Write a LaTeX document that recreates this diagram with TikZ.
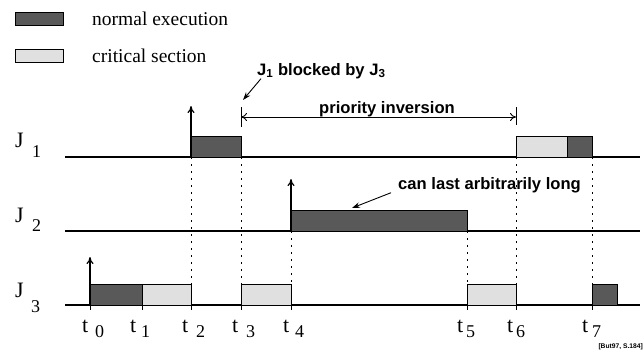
\documentclass[tikz,border=0pt]{standalone}
\usepackage{fontspec}
\setmainfont{Liberation Serif}
\newfontfamily\annfont{Liberation Sans}
\usetikzlibrary{arrows.meta}

\begin{document}
\begin{tikzpicture}[x=1pt,y=-1pt,
  timeline/.style={line width=1.1pt},
  normalbox/.style={draw=black, line width=0.9pt, fill=black!65},
  critbox/.style={draw=black, line width=0.9pt, fill=black!12},
  guide/.style={line width=1pt, dash pattern=on 1.8pt off 5.2pt},
  release/.style={line width=1.2pt, -{To[length=7pt,width=7pt]}},
  note/.style={font=\annfont\bfseries\fontsize{16.6}{18}\selectfont, inner sep=0pt},
  pointer/.style={line width=0.9pt, -{Stealth[length=8pt,width=5.5pt]}},
  jlab/.style={font=\fontsize{22}{24}\selectfont, inner sep=0pt, anchor=base west},
  sublab/.style={font=\fontsize{18}{20}\selectfont, inner sep=0pt, anchor=base west},
  legend/.style={font=\fontsize{19.5}{22}\selectfont, inner sep=0pt, anchor=base west},
]
\useasboundingbox[fill=white] (0,0) rectangle (644,353);

% legend
\draw[normalbox, line width=0.7pt] (15,12) rectangle (63,25);
\node[legend] (lgnormal) at (92,26) {normal execution};
\draw[critbox, line width=0.7pt] (15,49) rectangle (63,62);
\node[legend] (lgcrit) at (92,62) {critical section};

% task timelines
\draw[timeline] (65,157) -- (640,157);
\draw[timeline] (65,231) -- (640,231);
\draw[timeline] (65,305) -- (640,305);

% task names
\node[jlab] (j1) at (15,147) {J};
\node[sublab] (j1n) at (32,157) {1};
\node[jlab] (j2) at (15,222) {J};
\node[sublab] (j2n) at (32,231) {2};
\node[jlab] (j3) at (15,297) {J};
\node[sublab] (j3n) at (31,312) {3};

% guide lines between the tasks
\draw[guide] (191,157) -- (191,305);
\draw[guide] (241,157) -- (241,305);
\draw[guide] (291,231) -- (291,305);
\draw[guide] (467,231) -- (467,305);
\draw[guide] (516,157) -- (516,305);
\draw[guide] (592,157) -- (592,305);

% execution of J3
\draw[normalbox] (90,284) rectangle (142,305);
\draw[critbox] (142,284) rectangle (191,305);
\draw[critbox] (241,284) rectangle (291,305);
\draw[critbox] (467,284) rectangle (516,305);
\draw[normalbox] (592,284) rectangle (617,305);

% execution of J2
\draw[normalbox] (291,210) rectangle (467,231);

% execution of J1
\draw[normalbox] (191,136) rectangle (241,157);
\draw[critbox] (516,136) rectangle (567,157);
\draw[normalbox] (567,136) rectangle (592,157);

% release arrows
\draw[release] (90,305) -- (90,257);
\draw[release] (191,157) -- (191,106);
\draw[release] (291,231) -- (291,179);

% ticks on the time axis
\foreach \tx in {90,142,191,241,291,467,516,592}
  \draw[line width=0.8pt] (\tx,305) -- (\tx,310);

% time labels
\node[jlab] (t0) at (82,332) {t};  \node[sublab] (t0n) at (95,337) {0};
\node[jlab] (t1) at (130,332) {t}; \node[sublab] (t1n) at (141,337) {1};
\node[jlab] (t2) at (182,332) {t}; \node[sublab] (t2n) at (196,337) {2};
\node[jlab] (t3) at (232,332) {t}; \node[sublab] (t3n) at (246,337) {3};
\node[jlab] (t4) at (283,332) {t}; \node[sublab] (t4n) at (295,337) {4};
\node[jlab] (t5) at (457,332) {t}; \node[sublab] (t5n) at (466,337) {5};
\node[jlab] (t6) at (507,332) {t}; \node[sublab] (t6n) at (516,337) {6};
\node[jlab] (t7) at (582,332) {t}; \node[sublab] (t7n) at (592,337) {7};

% priority inversion interval
\draw[line width=0.9pt] (241,107) -- (241,127);
\draw[line width=0.9pt] (516,107) -- (516,125);
\coordinate (pistart) at (241,117);
\coordinate (piend) at (516,117);
\draw[line width=0.9pt, {To[length=6pt,width=8pt]}-{To[length=6pt,width=8pt]}] (pistart) -- (piend);
\node[note, anchor=base] (prio) at (387,113) {priority inversion};

% annotations
\node[note, anchor=base west] (blocked) at (257,75) {J\textsubscript{1} blocked by J\textsubscript{3}};
\coordinate (blockpt) at (243,100);
\draw[pointer] ([xshift=4pt]blocked.south west) -- (blockpt);

\node[note, anchor=base west] (longnote) at (398,189) {can last arbitrarily long};
\coordinate (longpt) at (352,208);
\draw[pointer] ([xshift=-7pt]longnote.south west) -- (longpt);

\node[font=\annfont\bfseries\fontsize{6.7}{8}\selectfont, anchor=east, inner sep=0pt] (cite) at (643,347) {[But97, S.184]};
\end{tikzpicture}
\end{document}
